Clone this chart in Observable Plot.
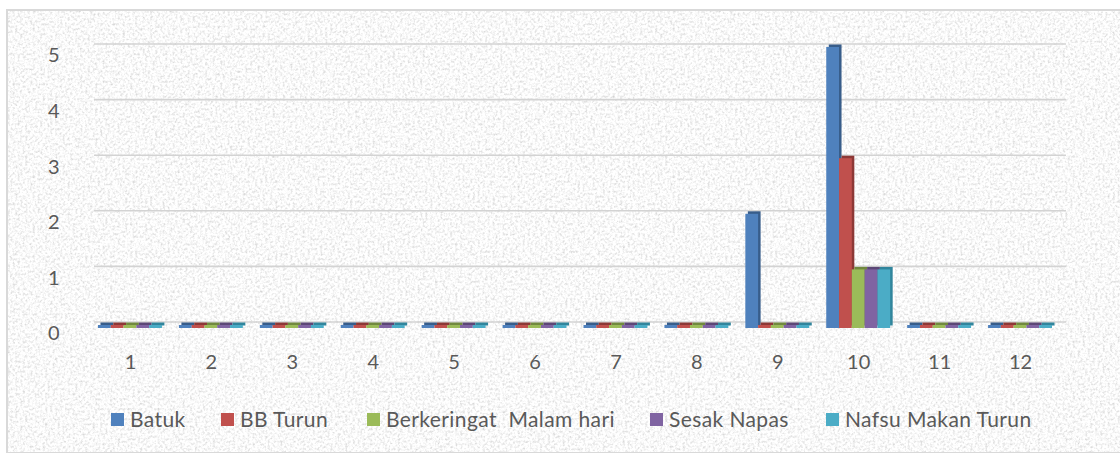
<!DOCTYPE html>
<html>
<head>
<meta charset="utf-8">
<script src="https://cdn.jsdelivr.net/npm/d3@7"></script>
<script src="https://cdn.jsdelivr.net/npm/@observablehq/plot@0.6"></script>
<style>
  html, body { margin: 0; padding: 0; background: #fff; }
  #wrap { position: relative; width: 1120px; height: 453px; overflow: hidden; font-family: Lato, "Open Sans", sans-serif; }
  #panel { position: absolute; left: 6px; top: 9px; width: 1120px; height: 441px; border: 2px solid #d9d9d9; overflow: hidden; }
  #panel svg.tex { position: absolute; left: 0; top: 0; }
  #chart { position: absolute; left: 0; top: 0; }
  #legend { position: absolute; left: 0; top: 406px; width: 1120px; height: 26px; font-size: 21px; letter-spacing: 0.4px; line-height: 26px; color: #595959; }
  #legend .item { position: absolute; top: 0; display: flex; align-items: center; }
  #legend .sw { width: 13px; height: 13px; margin-right: 6px; }
</style>
</head>
<body>
<div id="wrap">
  <div id="panel">
    <svg class="tex" width="1120" height="445">
      <filter id="noise" x="0" y="0" width="100%" height="100%">
        <feTurbulence type="fractalNoise" baseFrequency="0.4" numOctaves="3" seed="4"/>
        <feColorMatrix type="matrix" values="0.7 0 0 0 0.6  0.7 0 0 0 0.6  0.7 0 0 0 0.6  0 0 0 0 1"/>
      </filter>
      <rect width="1120" height="445" filter="url(#noise)"/>
    </svg>
  </div>
  <div id="chart"></div>
  <div id="legend"></div>
</div>
<script>
const groups = [1, 2, 3, 4, 5, 6, 7, 8, 9, 10, 11, 12];
const seriesNames = ["Batuk", "BB Turun", "Berkeringat  Malam hari", "Sesak Napas", "Nafsu Makan Turun"];
const batuk       = [0, 0, 0, 0, 0, 0, 0, 0, 2, 5, 0, 0];
const bbTurun     = [0, 0, 0, 0, 0, 0, 0, 0, 0, 3, 0, 0];
const berkeringat = [0, 0, 0, 0, 0, 0, 0, 0, 0, 1, 0, 0];
const sesakNapas  = [0, 0, 0, 0, 0, 0, 0, 0, 0, 1, 0, 0];
const nafsuMakan  = [0, 0, 0, 0, 0, 0, 0, 0, 0, 1, 0, 0];
const yTicks = [0, 1, 2, 3, 4, 5];

const colors = ["#4F81BD", "#C0504D", "#9BBB59", "#8064A2", "#4BACC6"];
const darks  = ["#385D8A", "#8C3836", "#71893F", "#5C4776", "#31859C"];

const seriesValues = [batuk, bbTurun, berkeringat, sesakNapas, nafsuMakan];
const data = [];
groups.forEach((g, gi) => {
  seriesNames.forEach((s, si) => {
    data.push({group: g, series: s, si, value: seriesValues[si][gi]});
  });
});

const font = "Lato, 'Open Sans', sans-serif";

const chart = Plot.plot({
  width: 1120,
  height: 395,
  marginLeft: 89.5,
  marginRight: 59.5,
  marginTop: 50,
  marginBottom: 67,
  style: {background: "transparent", fontFamily: font, fontSize: "20px", color: "#595959"},
  fx: {domain: groups, paddingInner: 0.21, paddingOuter: 0.105, round: false, label: null, axis: null},
  x: {domain: seriesNames, padding: 0, round: false, axis: null},
  y: {domain: [0, 5], axis: null},
  marks: [
    Plot.ruleY(yTicks, {y: d => d, stroke: "#d3d3d3", strokeWidth: 1.6, dx: 5, dy: -6.5, insetLeft: -9, insetRight: -9}),
    Plot.axisY(yTicks, {tickSize: 0, tickPadding: 39, dy: 5.5, fill: "#595959", fontSize: 20, label: null, tickFormat: d => String(d)}),
    Plot.axisFx({anchor: "bottom", tickSize: 0, tickPadding: 26, fill: "#595959", fontSize: 20, label: null, tickFormat: d => String(d)}),
    Plot.barY(data, {fx: "group", x: "series", y: "value", insetTop: -3, dx: 2.5, dy: -2.5,
      fill: {value: d => darks[d.si], scale: null}}),
    Plot.barY(data, {fx: "group", x: "series", y: "value", insetTop: -3,
      fill: {value: d => colors[d.si], scale: null}})
  ]
});
document.getElementById("chart").appendChild(chart);

const legend = document.getElementById("legend");
const legendLeft = [111, 221, 367, 650, 826];
seriesNames.forEach((s, i) => {
  const item = document.createElement("div");
  item.className = "item";
  item.style.left = legendLeft[i] + "px";
  const sw = document.createElement("div");
  sw.className = "sw";
  sw.style.background = colors[i];
  const t = document.createElement("span");
  t.textContent = s;
  t.style.whiteSpace = "pre";
  item.appendChild(sw);
  item.appendChild(t);
  legend.appendChild(item);
});
</script>
</body>
</html>
